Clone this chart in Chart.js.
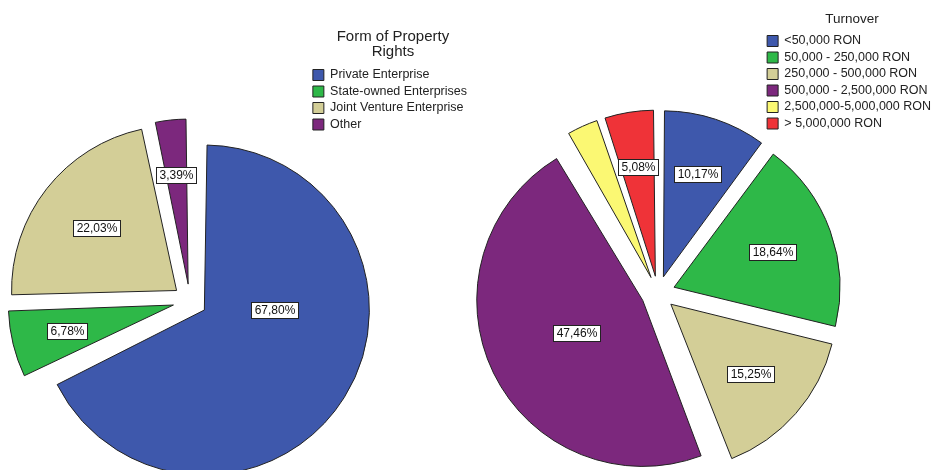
<!DOCTYPE html>
<html>
<head>
<meta charset="utf-8">
<script src="https://cdn.jsdelivr.net/npm/chart.js@4.4.1/dist/chart.umd.min.js"></script>
<style>
  html, body { margin: 0; padding: 0; background: #fff; overflow: hidden; width: 935px; height: 470px; }
  canvas { position: absolute; top: 0; }
  #propertyChart { left: 0; }
  #turnoverChart { left: 460px; }
</style>
</head>
<body>
<canvas id="propertyChart" width="480" height="602"></canvas>
<canvas id="turnoverChart" width="490" height="586"></canvas>
<script>
// data (percent of respondents)
const propertyLabels = ['Private Enterprise', 'State-owned Enterprises', 'Joint Venture Enterprise', 'Other'];
const propertyValues = [67.80, 6.78, 22.03, 3.39];

const turnoverLabels = ['<50,000 RON', '50,000 - 250,000 RON', '250,000 - 500,000 RON',
    '500,000 - 2,500,000 RON', '2,500,000-5,000,000 RON', '> 5,000,000 RON'];
const turnoverValues = [10.17, 18.64, 15.25, 47.46, 3.39, 5.08];
const turnoverUnlabelled = [4];   // the small yellow slice has no label in the original

// SPSS default palette
const spssColors = ['#3E58AC', '#2EB848', '#D3CE97', '#7C287D', '#FBF873', '#EF3338'];

Chart.defaults.font.family = "'Liberation Sans', Arial, sans-serif";
Chart.defaults.color = '#222';

const EXPLODE = 68; // arc offset -> slices are moved out by EXPLODE / 4 px

// Chart.js grows the radius of offset arcs; take that back so all slices keep the same radius
const keepRadius = {
    id: 'keepRadius',
    afterDatasetUpdate(chart, args) {
        args.meta.data.forEach(arc => {
            const off = (arc.options.offset || 0) / 4;
            const circ = arc.endAngle - arc.startAngle;
            arc.outerRadius -= off * (1 - Math.sin(Math.min(Math.PI, circ)));
        });
    }
};

// white boxed percentage labels inside the slices
const sliceLabels = {
    id: 'sliceLabels',
    afterDatasetsDraw(chart, args, opts) {
        const ctx = chart.ctx;
        const ds = chart.data.datasets[0];
        const meta = chart.getDatasetMeta(0);
        const skip = opts.skip || [];
        ctx.save();
        ctx.font = "12px 'Liberation Sans', Arial, sans-serif";
        ctx.textAlign = 'center';
        ctx.textBaseline = 'middle';
        meta.data.forEach((arc, i) => {
            if (skip.includes(i)) return;
            const text = ds.data[i].toFixed(2).replace('.', ',') + '%';
            const shift = (arc.options.offset || 0) / 4;
            const mid = (arc.startAngle + arc.endAngle) / 2;
            const half = Math.min((arc.endAngle - arc.startAngle) / 2, Math.PI / 2);
            const ang = arc.startAngle + half;
            const r = 2 * ds.radius * Math.sin(half) / (3 * half);
            const x = arc.x + Math.cos(mid) * shift + Math.cos(ang) * r;
            const y = arc.y + Math.sin(mid) * shift + Math.sin(ang) * r;
            const w = Math.round(ctx.measureText(text).width + 6);
            const h = 16;
            const bx = Math.round(x - w / 2) + 0.5;
            const by = Math.round(y - h / 2) + 0.5;
            ctx.fillStyle = '#fff';
            ctx.fillRect(bx, by, w, h);
            ctx.strokeStyle = '#222';
            ctx.lineWidth = 1;
            ctx.strokeRect(bx, by, w, h);
            ctx.fillStyle = '#111';
            ctx.fillText(text, bx + w / 2, by + h / 2 + 0.5);
        });
        ctx.restore();
    }
};

function makePie(canvasId, labels, values, radius, title, padding, skip) {
    return new Chart(document.getElementById(canvasId), {
        type: 'pie',
        data: {
            labels: labels,
            datasets: [{
                data: values,
                backgroundColor: spssColors.slice(0, values.length),
                borderColor: '#222',
                borderWidth: 1,
                offset: EXPLODE,
                hoverOffset: 0,
                radius: radius
            }]
        },
        plugins: [keepRadius, sliceLabels],
        options: {
            responsive: false,
            animation: false,
            devicePixelRatio: 1,
            layout: { padding: padding },
            plugins: {
                tooltip: { enabled: false },
                sliceLabels: { skip: skip },
                legend: {
                    position: 'right',
                    align: 'start',
                    labels: {
                        boxWidth: 11,
                        boxHeight: 11,
                        padding: 4,
                        color: '#222',
                        font: { size: 12.5 }
                    },
                    title: title
                }
            }
        }
    });
}

makePie('propertyChart', propertyLabels, propertyValues, 165, {
    display: true,
    text: ['Form of Property', 'Rights'],
    color: '#222',
    position: 'center',
    font: { size: 15, lineHeight: 1 },
    padding: { top: 29.5, bottom: 20.25 }
}, { left: 71, right: 3, top: 0, bottom: 0 }, []);

makePie('turnoverChart', turnoverLabels, turnoverValues, 166, {
    display: true,
    text: 'Turnover',
    color: '#222',
    position: 'center',
    font: { size: 13.5, lineHeight: 1 },
    padding: { top: 12.25, bottom: 5 }
}, { left: 93, right: 9, top: 0, bottom: 0 }, turnoverUnlabelled);
</script>
</body>
</html>
